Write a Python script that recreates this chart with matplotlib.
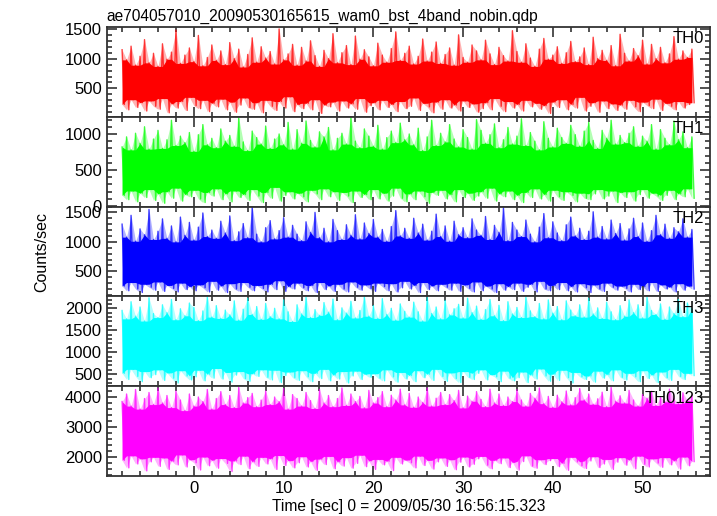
import numpy as np
import matplotlib
matplotlib.use("Agg")
import matplotlib.pyplot as plt
from matplotlib.ticker import MultipleLocator

plt.rcParams['font.family'] = ['Liberation Sans', 'DejaVu Sans']

title = "ae704057010_20090530165615_wam0_bst_4band_nobin.qdp"
xlabel = "Time [sec] 0 = 2009/05/30 16:56:15.323"
ylabel = "Counts/sec"

# time bins (start, step) -- values alternate between spike tops and troughs
t_start = -8.0
t_step = 0.25

th0 = [
    1150, 230, 980, 140, 1210, 310, 890, 180, 1040, 260, 1320, 120, 930, 290, 1090, 200,
    870, 150, 1250, 330, 990, 90, 1110, 240, 1480, 170, 920, 280, 1060, 130, 1180, 350,
    950, 210, 1390, 160, 880, 300, 1020, 110, 1230, 250, 970, 190, 1130, 320, 900, 140,
    1270, 270, 1000, 100, 1160, 220, 860, 340, 1070, 180, 1350, 150, 940, 260, 1200, 90,
    1010, 300, 1120, 200, 910, 130, 1500, 280, 980, 170, 1080, 360, 1240, 110, 890, 230,
    1190, 160, 960, 250, 1300, 140, 1050, 310, 870, 80, 1140, 220, 1000, 190, 1420, 270,
    930, 120, 1100, 290, 1220, 170, 900, 240, 1380, 150, 990, 330, 1150, 100, 1030, 210,
    880, 260, 1260, 140, 1060, 300, 940, 180, 1170, 230, 1450, 110, 970, 280, 1090, 160,
    1210, 200, 910, 340, 1040, 130, 1330, 250, 960, 190, 1110, 90, 1280, 270, 920, 150,
    1070, 310, 1180, 170, 890, 220, 1400, 120, 1020, 290, 940, 180, 1230, 240, 1130, 100,
    980, 160, 1310, 260, 1080, 140, 900, 330, 1190, 200, 1050, 110, 960, 280, 1470, 170,
    1120, 230, 940, 120, 1250, 300, 1010, 190, 870, 250, 1160, 150, 1340, 210, 990, 80,
    1060, 270, 1200, 180, 920, 310, 1100, 140, 1290, 230, 950, 170, 1030, 350, 1180, 120,
    900, 200, 1360, 260, 1000, 100, 1140, 290, 970, 160, 1220, 240, 880, 130, 1410, 220,
    1090, 150, 960, 300, 1170, 190, 1050, 110, 1310, 270, 910, 210, 1240, 160, 1000, 320,
    1190, 130, 930, 250, 1080, 200, 1370, 140, 990, 280, 1130, 170, 1020, 230, 1160, 260,
]

th1 = [
    820, 150, 960, 90, 780, 210, 1010, 60, 870, 180, 1100, 120, 790, 230, 930, 80,
    1050, 170, 800, 40, 920, 200, 1190, 110, 840, 250, 970, 70, 880, 160, 1020, 130,
    760, 220, 990, 100, 1130, 50, 850, 190, 940, 140, 810, 240, 1070, 90, 900, 170,
    980, 60, 830, 210, 1220, 120, 890, 160, 770, 80, 1040, 230, 950, 140, 860, 50,
    1110, 190, 800, 110, 930, 260, 1000, 70, 850, 150, 1160, 200, 790, 100, 1060, 180,
    870, 130, 1180, 60, 910, 220, 820, 170, 1030, 90, 960, 240, 1090, 130, 780, 200,
    940, 80, 1010, 190, 860, 140, 1230, 50, 900, 210, 810, 120, 1070, 160, 970, 90,
    830, 230, 1120, 100, 790, 180, 950, 70, 1040, 140, 880, 250, 1150, 110, 920, 60,
    1000, 170, 850, 90, 1080, 210, 770, 130, 960, 40, 1190, 190, 840, 150, 1010, 220,
    890, 100, 1130, 160, 930, 60, 820, 230, 1060, 120, 950, 180, 790, 80, 1200, 140,
    1050, 200, 870, 110, 990, 250, 1140, 70, 810, 170, 920, 130, 1090, 210, 860, 90,
    970, 150, 1210, 50, 840, 190, 1020, 120, 900, 240, 780, 100, 1170, 160, 940, 70,
    820, 220, 1080, 130, 950, 80, 870, 200, 1120, 150, 990, 60, 830, 180, 1040, 110,
    1160, 90, 910, 170, 800, 230, 1050, 100, 940, 140, 1190, 210, 860, 50, 980, 190,
    880, 120, 1010, 200, 1100, 70, 830, 160, 970, 230, 900, 110, 1130, 180, 790, 140,
    1060, 80, 940, 150, 850, 220, 1180, 90, 920, 170, 1030, 130, 810, 240, 960, 110,
]

th2 = [
    1300, 250, 1080, 170, 1450, 310, 1010, 200, 1220, 140, 1120, 280, 1550, 230, 1040, 180,
    1180, 320, 1390, 160, 1060, 260, 1270, 210, 1000, 150, 1420, 300, 1110, 190, 1330, 240,
    1030, 170, 1250, 270, 1490, 220, 1090, 150, 1200, 330, 1060, 180, 1350, 250, 1150, 140,
    1440, 290, 1020, 200, 1170, 160, 1310, 310, 1070, 230, 1600, 170, 1130, 260, 1000, 210,
    1240, 150, 1360, 280, 1050, 190, 1190, 340, 1410, 160, 1080, 240, 1280, 200, 1130, 300,
    1020, 220, 1340, 170, 1160, 260, 1500, 140, 1070, 310, 1230, 190, 1000, 250, 1380, 160,
    1190, 280, 1040, 200, 1290, 150, 1110, 320, 1460, 230, 1050, 180, 1320, 270, 1140, 210,
    1380, 160, 1080, 300, 1210, 240, 1010, 170, 1260, 290, 1530, 150, 1100, 220, 1230, 330,
    1060, 200, 1400, 260, 1150, 140, 1300, 310, 1030, 190, 1180, 250, 1470, 170, 1090, 280,
    1270, 230, 1010, 180, 1350, 300, 1120, 160, 1240, 270, 1070, 210, 1390, 150, 1200, 320,
    1110, 170, 1430, 250, 1040, 200, 1280, 140, 1160, 290, 1580, 180, 1020, 240, 1330, 190,
    1200, 300, 1090, 160, 1370, 230, 1130, 280, 1000, 150, 1250, 330, 1480, 200, 1070, 170,
    1340, 260, 1150, 190, 1020, 310, 1290, 170, 1420, 240, 1100, 150, 1230, 290, 1040, 220,
    1180, 140, 1510, 270, 1080, 200, 1260, 160, 1050, 300, 1370, 230, 1140, 180, 1310, 250,
    1030, 210, 1220, 150, 1400, 280, 1090, 190, 1320, 240, 1010, 170, 1190, 310, 1450, 160,
    1120, 270, 1300, 200, 1060, 230, 1240, 150, 1170, 290, 1390, 180, 1080, 250, 1210, 200,
]

th3 = [
    1950, 520, 1760, 380, 2150, 610, 1820, 450, 2030, 330, 1710, 560, 2240, 420, 1880, 490,
    1790, 600, 2080, 360, 1900, 530, 2200, 410, 1740, 300, 1990, 580, 1830, 460, 2120, 370,
    2020, 440, 1720, 590, 1940, 350, 2260, 500, 1800, 410, 2060, 630, 1770, 390, 1960, 540,
    1850, 320, 2170, 480, 1730, 560, 1980, 400, 2230, 340, 1860, 510, 2040, 450, 1750, 600,
    2110, 430, 1810, 370, 2000, 590, 1760, 310, 2190, 470, 1920, 550, 1700, 420, 2080, 360,
    1870, 580, 2250, 440, 1790, 330, 1970, 520, 1840, 400, 2130, 610, 1910, 350, 2210, 480,
    1740, 390, 2010, 560, 1890, 300, 2160, 460, 1780, 570, 1950, 380, 2270, 500, 1820, 430,
    2060, 510, 1770, 410, 2220, 350, 1860, 600, 2000, 440, 1730, 320, 2100, 540, 1930, 390,
    1800, 470, 2140, 330, 1920, 580, 1710, 420, 2250, 500, 1880, 360, 2030, 610, 1760, 450,
    2180, 340, 1850, 530, 1990, 400, 2090, 310, 1780, 560, 2230, 430, 1900, 380, 2050, 520,
    1750, 600, 1970, 370, 2200, 490, 1830, 440, 2070, 330, 1720, 570, 2150, 410, 1870, 350,
    2020, 420, 1790, 550, 2260, 310, 1940, 480, 1810, 390, 2110, 620, 1760, 460, 2190, 340,
    1890, 500, 2040, 360, 1740, 590, 2170, 420, 1960, 300, 1830, 540, 2080, 440, 1800, 380,
    2230, 460, 1870, 320, 2010, 570, 1770, 410, 2140, 490, 1920, 350, 1740, 600, 2060, 430,
    1820, 370, 2190, 520, 1900, 440, 2080, 330, 1780, 580, 2250, 400, 1950, 480, 1860, 310,
    2100, 550, 1750, 420, 2030, 360, 1880, 610, 2200, 450, 1810, 380, 2120, 520, 1990, 470,
]

th0123 = [
    3850, 1900, 4100, 1650, 3700, 2050, 4250, 1780, 3600, 1950, 3950, 1550, 4150, 1850, 3750, 2000,
    4300, 1700, 3800, 1980, 4050, 1600, 3650, 1870, 4200, 1750, 3900, 2080, 3550, 1680, 4100, 1920,
    3700, 1820, 4000, 1580, 3850, 2010, 4250, 1720, 3600, 1900, 3950, 1640, 4180, 1960, 3750, 1800,
    4050, 1530, 3650, 1880, 4320, 1760, 3800, 2040, 3980, 1620, 4120, 1850, 3680, 1700, 3900, 2000,
    4200, 1780, 3750, 1950, 4000, 1600, 3850, 2060, 4280, 1730, 3600, 1890, 4080, 1650, 3950, 1820,
    3700, 2020, 4150, 1680, 3880, 1860, 3620, 1570, 4250, 1940, 3800, 1760, 4050, 2030, 3680, 1620,
    3950, 1850, 4300, 1710, 3720, 1990, 4100, 1640, 3850, 1800, 4020, 2070, 3640, 1690, 4220, 1880,
    3800, 1600, 3980, 1930, 4180, 1750, 3680, 1870, 4060, 1560, 3900, 2000, 4260, 1780, 3740, 1910,
    4120, 1820, 3660, 1650, 4000, 2040, 3820, 1730, 4300, 1900, 3700, 1610, 3960, 1850, 4150, 1980,
    3750, 1700, 4080, 1920, 3880, 1590, 4220, 1840, 3640, 2010, 4030, 1680, 3860, 1770, 4180, 1950,
    3920, 2030, 3680, 1740, 4260, 1620, 3800, 1900, 4100, 1790, 3720, 1980, 4000, 1660, 3850, 1830,
    4240, 1580, 3900, 1860, 3700, 2050, 4120, 1710, 3960, 1640, 4300, 1920, 3780, 1760, 4020, 1890,
    3660, 1960, 4060, 1690, 3840, 1800, 4200, 1570, 3740, 2000, 3980, 1850, 4280, 1720, 3900, 1630,
    4100, 1880, 3760, 2020, 3940, 1660, 4160, 1780, 3680, 1930, 4320, 1600, 3860, 1840, 4040, 1990,
    3800, 1740, 4220, 1910, 3900, 1620, 3700, 2040, 4080, 1770, 3960, 1680, 4190, 1950, 3720, 1810,
    4000, 1670, 3840, 1990, 4260, 1750, 3940, 1880, 3780, 1610, 4140, 2010, 3880, 1720, 4060, 1860,
]

series = [th0, th1, th2, th3, th0123]
names = ["TH0", "TH1", "TH2", "TH3", "TH0123"]
colors = ["#ff0000", "#00ff00", "#0000ff", "#00ffff", "#ff00ff"]
ylims = [(25, 1535), (-5, 1240), (75, 1600), (227, 2273), (1380, 4360)]
ymajor = [500, 500, 500, 500, 1000]
yminor = [100, 100, 100, 100, 200]


def rolling(a, fn, w=3):
    pad = np.pad(a, w // 2, mode='edge')
    return np.array([fn(pad[k:k + w]) for k in range(len(a))])


fig, axs = plt.subplots(5, 1, sharex=True, figsize=(7.17, 5.16), dpi=100)
fig.subplots_adjust(left=0.149, right=0.990, top=0.948, bottom=0.0775, hspace=0)

for i, ax in enumerate(axs):
    y = np.array(series[i], dtype=float)
    t = t_start + t_step * np.arange(len(y))
    tp = t[0::2]
    hi = y[0::2]
    lo = y[1::2]
    # pale spike fringe, dense core, thin strokes on top
    ax.fill_between(tp, lo, hi, color=colors[i], alpha=0.3, lw=0)
    ax.fill_between(tp, rolling(lo, np.max), rolling(hi, np.min),
                    color=colors[i], lw=0)
    ax.plot(t, y, color=colors[i], lw=1.0, alpha=0.75)
    ax.set_ylim(*ylims[i])
    ax.set_xlim(-9.7, 57.5)
    ax.yaxis.set_major_locator(MultipleLocator(ymajor[i]))
    ax.yaxis.set_minor_locator(MultipleLocator(yminor[i]))
    ax.xaxis.set_major_locator(MultipleLocator(10))
    ax.xaxis.set_minor_locator(MultipleLocator(2))
    ax.tick_params(which='both', direction='in', top=True, right=True,
                   labelsize=12, color='#333333', width=1.2)
    ax.tick_params(which='major', length=7)
    ax.tick_params(which='minor', length=3.5)
    for s in ax.spines.values():
        s.set_linewidth(1.3)
        s.set_color('#333333')
    ax.text(0.99, 0.95, names[i], transform=ax.transAxes, ha='right', va='top',
            fontsize=12)

axs[-1].set_xlabel(xlabel, fontsize=11.2, labelpad=2)
fig.text(0.058, 0.512, ylabel, rotation=90, ha='center', va='center', fontsize=11.5)
axs[0].set_title(title, loc='left', fontsize=11.2, pad=4)

plt.savefig("out.png", dpi=100)
